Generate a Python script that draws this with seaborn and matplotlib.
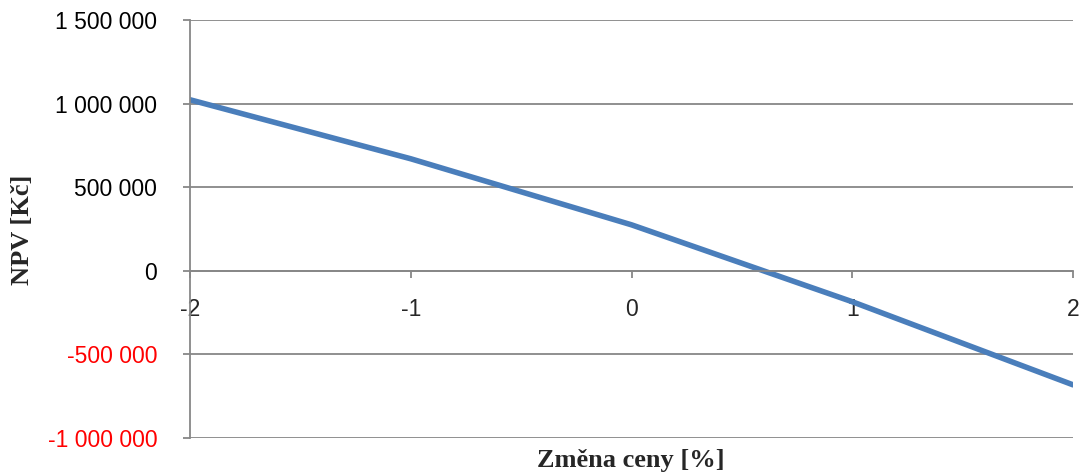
import matplotlib
matplotlib.use("Agg")
import matplotlib.pyplot as plt
import seaborn as sns
import pandas as pd

price_change = [-2, -1, 0, 1, 2]
npv = [1023000, 670000, 275000, -185000, -682000]
y_ticks = [-1000000, -500000, 0, 500000, 1000000, 1500000]
x_ticks = [-2, -1, 0, 1, 2]

df = pd.DataFrame({"x": price_change, "y": npv})

sns.set_theme(style="white")
plt.rcParams['font.family'] = ['Liberation Sans', 'DejaVu Sans']

fig = plt.figure(figsize=(10.85, 4.76), dpi=100)
ax = fig.add_axes([190/1085, 38/476, (1073-190)/1085, (438-20)/476])

sns.lineplot(data=df, x="x", y="y", ax=ax, color="#4A7EBB", linewidth=4.0,
             solid_capstyle="round")

grid_c = "#878787"
ax.set_xlim(-2, 2)
ax.set_ylim(-1000000, 1500000)
ax.set_yticks(y_ticks)
ax.set_xticks(x_ticks)
ax.yaxis.grid(True, color=grid_c, linewidth=1.3)
ax.xaxis.grid(False)
ax.set_axisbelow(True)

for s in ["top", "right"]:
    ax.spines[s].set_visible(False)
ax.spines["left"].set_color(grid_c)
ax.spines["left"].set_linewidth(1.3)
ax.spines["bottom"].set_position(("data", 0))
ax.spines["bottom"].set_color(grid_c)
ax.spines["bottom"].set_linewidth(1.3)

def fmt(v):
    s = f"{abs(int(v)):,}".replace(",", " ")
    return ("-" + s) if v < 0 else s

ax.set_yticklabels([fmt(v) for v in y_ticks])
ax.set_xticklabels([str(v) for v in x_ticks])
ax.tick_params(axis="y", left=True, length=5, width=1.3, color=grid_c,
               labelsize=16.5, pad=18.5, labelcolor="black")
ax.tick_params(axis="x", bottom=True, direction="out", length=5, width=1.3,
               color=grid_c, labelsize=16.5, pad=14.5)
for lbl, v in zip(ax.get_yticklabels(), y_ticks):
    lbl.set_color("red" if v < 0 else "black")

ax.set_xlabel("")
ax.set_ylabel("")
fig.text(631/1085, (476-461)/476, "Změna ceny [%]",
         ha="center", va="center", fontsize=19, fontweight="bold",
         family=["Liberation Serif", "DejaVu Serif"])
fig.text(22/1085, (476-230)/476, "NPV [Kč]", ha="center", va="center", rotation=90,
         fontsize=19, fontweight="bold", family=["Liberation Serif", "DejaVu Serif"])

fig.savefig("out.png", dpi=100)
